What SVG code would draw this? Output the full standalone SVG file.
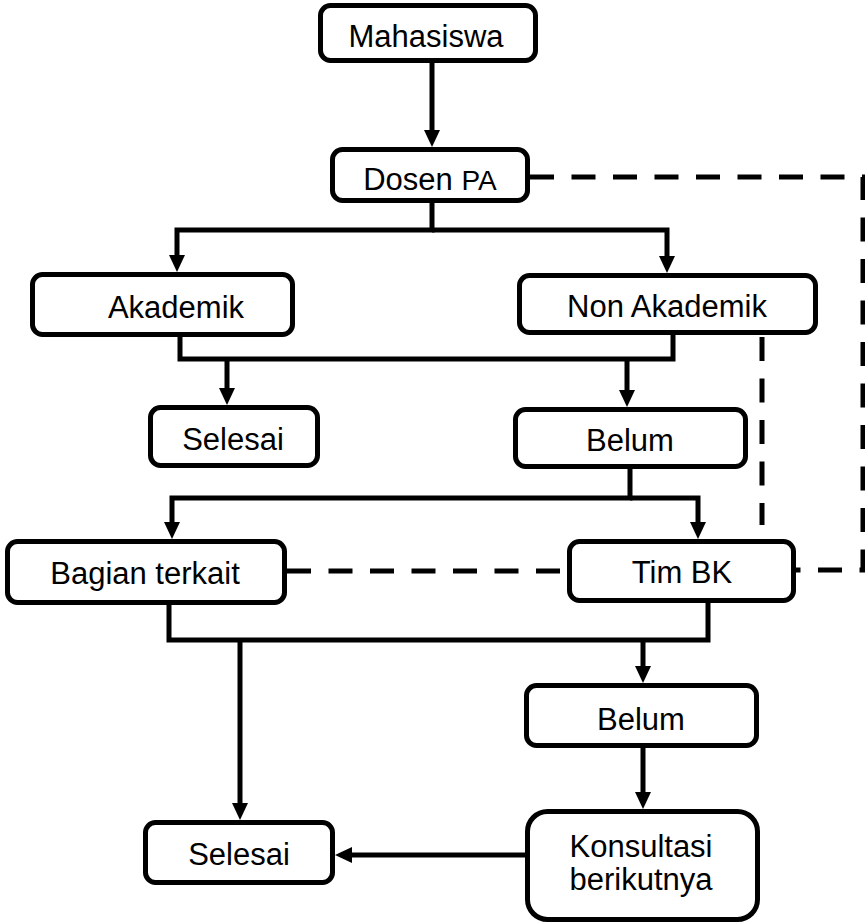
<svg xmlns="http://www.w3.org/2000/svg" width="865" height="924" viewBox="0 0 865 924">
<defs>
<style>
.box{fill:#fff;stroke:#000;stroke-width:5}
.t{font-family:"Liberation Sans",Arial,sans-serif;font-size:31px;fill:#000;text-anchor:middle}
.c{fill:none;stroke:#000;stroke-width:5;stroke-linejoin:miter}
.a{marker-end:url(#arr)}
.d{fill:none;stroke:#000;stroke-width:5;stroke-dasharray:24 17.5}
</style>
<marker id="arr" viewBox="0 0 17 16" refX="7" refY="8" markerWidth="17" markerHeight="16" markerUnits="userSpaceOnUse" orient="auto">
<path d="M0,0 L17,8 L0,16 z" fill="#000"/>
</marker>
</defs>
<rect width="865" height="924" fill="#fff"/>
<g id="connectors">
<path class="c a" d="M432,63 V137"/>
<path class="c a" d="M432,203 V230 H177 V262"/>
<path class="c a" d="M432,230 H667 V263"/>
<path class="c" d="M180,337 V359 H673 V335"/>
<path class="c a" d="M227,359 V395"/>
<path class="c a" d="M627,359 V397"/>
<path class="c a" d="M630,469 V498 H172 V529"/>
<path class="c a" d="M630,498 H698 V529"/>
<path class="c" d="M169,605 V640 H708 V603"/>
<path class="c a" d="M240,640 V810"/>
<path class="c a" d="M643,640 V673"/>
<path class="c a" d="M643,748 V799"/>
<path class="c a" d="M525,855 H345"/>
<path class="d" d="M530,177 H863 V570 H796"/>
<path class="d" d="M762,337 V525"/>
<path class="d" d="M287,571 H567"/>
</g>
<g id="n-mahasiswa"><rect class="box" x="320.5" y="5.5" width="215" height="55" rx="10"/><text class="t" x="426" y="47">Mahasiswa</text></g>
<g id="n-dosen"><rect class="box" x="332.5" y="149.5" width="195" height="51" rx="10"/><text class="t" x="430" y="190">Dosen <tspan font-size="28">PA</tspan></text></g>
<g id="n-akademik"><rect class="box" x="32.5" y="274.5" width="260" height="60" rx="10"/><text class="t" x="176" y="318">Akademik</text></g>
<g id="n-nonakademik"><rect class="box" x="519.5" y="275.5" width="296" height="57" rx="10"/><text class="t" x="667" y="317">Non Akademik</text></g>
<g id="n-selesai1"><rect class="box" x="150.5" y="407.5" width="167" height="58" rx="10"/><text class="t" x="233" y="450">Selesai</text></g>
<g id="n-belum1"><rect class="box" x="515.5" y="409.5" width="230" height="57" rx="10"/><text class="t" x="630" y="451">Belum</text></g>
<g id="n-bagian"><rect class="box" x="7.5" y="541.5" width="277" height="61" rx="10"/><text class="t" x="145" y="584">Bagian terkait</text></g>
<g id="n-timbk"><rect class="box" x="569.5" y="541.5" width="224" height="59" rx="10"/><text class="t" x="682" y="583">Tim BK</text></g>
<g id="n-belum2"><rect class="box" x="526.5" y="685.5" width="230" height="60" rx="10"/><text class="t" x="641" y="730">Belum</text></g>
<g id="n-konsultasi"><rect class="box" x="527.5" y="811.5" width="230" height="108" rx="20"/><text class="t" x="641" y="857">Konsultasi</text><text class="t" x="641" y="890">berikutnya</text></g>
<g id="n-selesai2"><rect class="box" x="145.5" y="822.5" width="187" height="60" rx="10"/><text class="t" x="239" y="865">Selesai</text></g>
</svg>
